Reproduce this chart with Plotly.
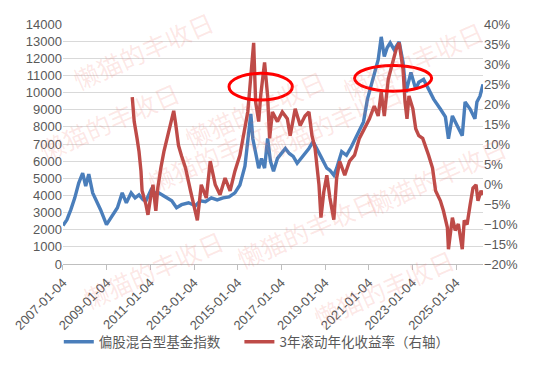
import datetime
import plotly.graph_objects as go

# ---- data (decimal years) ----
blue_t = [2007.01, 2007.19, 2007.37, 2007.55, 2007.73, 2007.91, 2008.05, 2008.19, 2008.37, 2008.55,
          2008.73, 2009.00, 2009.27, 2009.50, 2009.72, 2009.91, 2010.13, 2010.31, 2010.49, 2010.68,
          2010.81, 2011.04, 2011.22, 2011.40, 2011.63, 2011.85, 2011.99, 2012.21, 2012.44, 2012.76,
          2013.07, 2013.30, 2013.53, 2013.80, 2014.07, 2014.34, 2014.61, 2014.88, 2015.11, 2015.34,
          2015.47, 2015.61, 2015.70, 2015.83, 2015.97, 2016.10, 2016.24, 2016.38, 2016.51, 2016.65,
          2016.83, 2017.01, 2017.19, 2017.37, 2017.55, 2017.73, 2017.91, 2018.09, 2018.27, 2018.46,
          2018.64, 2018.86, 2019.09, 2019.23, 2019.41, 2019.54, 2019.77, 2019.99, 2020.22, 2020.40,
          2020.58, 2020.77, 2020.95, 2021.13, 2021.31, 2021.44, 2021.58, 2021.72, 2021.85, 2021.99,
          2022.17, 2022.40, 2022.58, 2022.71, 2022.94, 2023.16, 2023.30, 2023.52, 2023.75, 2023.98,
          2024.29, 2024.52, 2024.66, 2024.84, 2025.06, 2025.29, 2025.42, 2025.65, 2025.87, 2025.96,
          2026.10, 2026.24]
blue_v = [2250, 2590, 3170, 3860, 4720, 5300, 4550, 5240, 4150, 3690,
          3170, 2300, 2880, 3280, 4150, 3570, 4150, 3860, 4030, 3740,
          3690, 4320, 4150, 4150, 3970, 3800, 3690, 3280, 3460, 3570,
          3400, 3690, 3630, 3860, 3740, 3860, 3920, 4150, 4610, 5700,
          7320, 8750, 7320, 6450, 5590, 6160, 5590, 7320, 5990, 5410,
          6160, 6450, 6740, 6450, 6280, 5880, 6160, 6450, 6740, 7140,
          6740, 6160, 5590, 5470, 5180, 5590, 6560, 6340, 6850, 7320,
          7890, 8290, 9620, 10480, 11230, 11920, 13250, 12100, 12610, 12900,
          12500, 12960, 11750, 10020, 11170, 10200, 10600, 10770, 10200, 9620,
          9040, 8580, 7310, 8640, 8060, 7490, 9450, 9040, 8470, 9450,
          9790, 10480]

red_t = [2010.18, 2010.27, 2010.40, 2010.49, 2010.58, 2010.63, 2010.81, 2010.90, 2011.04, 2011.13,
         2011.26, 2011.35, 2011.49, 2011.63, 2011.85, 2012.08, 2012.17, 2012.30, 2012.44, 2012.62,
         2012.85, 2012.98, 2013.16, 2013.34, 2013.57, 2013.75, 2013.98, 2014.20, 2014.43, 2014.66,
         2014.88, 2015.11, 2015.34, 2015.47, 2015.56, 2015.65, 2015.74, 2015.83, 2015.97, 2016.06,
         2016.24, 2016.38, 2016.47, 2016.60, 2016.83, 2017.05, 2017.28, 2017.41, 2017.64, 2017.87,
         2018.09, 2018.27, 2018.41, 2018.55, 2018.73, 2018.82, 2018.95, 2019.09, 2019.23, 2019.41,
         2019.54, 2019.68, 2019.91, 2020.13, 2020.36, 2020.58, 2020.81, 2021.04, 2021.26, 2021.44,
         2021.58, 2021.72, 2021.90, 2022.12, 2022.26, 2022.40, 2022.58, 2022.67, 2022.76, 2022.85,
         2023.03, 2023.16, 2023.30, 2023.48, 2023.62, 2023.75, 2023.93, 2024.07, 2024.29, 2024.43,
         2024.61, 2024.66, 2024.84, 2024.97, 2025.11, 2025.29, 2025.38, 2025.51, 2025.65, 2025.78,
         2025.92, 2026.01, 2026.15, 2026.24]
red_v = [21.7, 15.6, 11.4, 8.1, 3.2, -1.7, -5.2, -7.7, -2.7, -0.2,
         -6.7, -1.0, 4.0, 8.1, 13.1, 18.3, 15.0, 9.6, 7.0, 4.0,
         -1.7, -4.5, -9.1, -0.2, -3.5, 5.7, -0.2, -2.7, 1.5, -1.7,
         3.2, 7.2, 14.6, 18.0, 23.7, 30.0, 35.3, 20.5, 15.6, 22.0,
         30.4, 22.0, 11.4, 18.0, 15.6, 18.0, 16.3, 12.1, 18.8, 14.6,
         17.0, 18.0, 12.1, 8.9, -0.2, -8.4, -2.0, 2.2, -3.5, -8.9,
         1.5, 5.7, 2.2, 5.7, 7.2, 11.4, 13.8, 16.3, 19.5, 17.0,
         23.0, 17.0, 26.2, 30.4, 33.6, 35.3, 28.6, 20.5, 16.3, 22.0,
         18.8, 13.8, 12.1, 11.4, 9.5, 7.2, 4.0, -1.7, -4.2, -6.7,
         -10.9, -16.3, -8.4, -11.6, -10.0, -16.3, -9.1, -10.1, -5.2, -1.0,
         -0.2, -4.2, -1.7, -2.7]

tick_labels = ["2007-01-04", "2009-01-04", "2011-01-04", "2013-01-04", "2015-01-04",
               "2017-01-04", "2019-01-04", "2021-01-04", "2023-01-04", "2025-01-04"]

series_names = ["偏股混合型基金指数", "3年滚动年化收益率（右轴）"]

# highlighted regions (decimal years, left-axis values)
ellipses = [(2014.61, 2017.51, 9560, 11120), (2020.36, 2023.89, 10080, 11580)]


def to_date(d):
    y = int(d)
    return datetime.datetime(y, 1, 1) + datetime.timedelta(days=(d - y) * 365.25)


bx = [to_date(t) for t in blue_t]
rx = [to_date(t) for t in red_t]
ry = [v / 100 for v in red_v]

BLUE = "#4A7EBB"
RED = "#BE4B48"
GRID = "#D9D9D9"
TXT = "#595959"
FONT = "Liberation Sans, Noto Sans CJK SC, sans-serif"

fig = go.Figure()
fig.add_trace(go.Scatter(x=bx, y=blue_v, mode="lines", name=series_names[0],
                         line=dict(color=BLUE, width=3.4), yaxis="y", legend="legend"))
fig.add_trace(go.Scatter(x=rx, y=ry, mode="lines", name=series_names[1],
                         line=dict(color=RED, width=3.4), yaxis="y2", legend="legend2"))

for x0, x1, y0, y1 in ellipses:
    fig.add_shape(type="circle", xref="x", yref="y", x0=to_date(x0), x1=to_date(x1),
                  y0=y0, y1=y1, line=dict(color="#FF0000", width=3))

# watermark
wm = "懒猫的丰收日"
wm_pos = [(252, 60), (25, 122), (135, 205), (410, 122), (305, 282), (70, 322),
          (462, 342), (515, 228), (492, 10), (60, 0)]
for px, py in wm_pos:
    fig.add_annotation(text=wm, xref="paper", yref="paper",
                       x=(px - 58) / 425, y=(267 - py) / 243, showarrow=False,
                       textangle=-24, font=dict(size=25, color="rgba(240,110,100,0.16)",
                                                family="Noto Sans CJK SC"))

leg_font = dict(size=13.5, color=TXT, family="Noto Sans CJK SC, sans-serif")
fig.update_layout(
    width=538, height=369,
    margin=dict(l=58, r=55, t=24, b=102),
    paper_bgcolor="white", plot_bgcolor="white",
    font=dict(family=FONT, size=13, color=TXT),
    showlegend=True,
    legend=dict(orientation="h", x=-0.01, xanchor="left", y=-0.325, yanchor="middle",
                font=leg_font, itemwidth=30, bgcolor="rgba(0,0,0,0)"),
    legend2=dict(orientation="h", x=0.42, xanchor="left", y=-0.325, yanchor="middle",
                 font=leg_font, itemwidth=30, bgcolor="rgba(0,0,0,0)"),
    xaxis=dict(type="date", range=[to_date(2007.01), to_date(2026.24)],
               tickvals=tick_labels, ticktext=tick_labels, tickangle=-45,
               showgrid=False, showline=True, linecolor="#BFBFBF", linewidth=1,
               ticks="outside", ticklen=5, tickcolor="#BFBFBF",
               tickfont=dict(size=13, color=TXT), zeroline=False),
    yaxis=dict(range=[0, 14000], dtick=1000, tickformat="d", showgrid=True,
               gridcolor=GRID, gridwidth=1, zeroline=False, showline=False,
               ticks="", tickfont=dict(size=13, color=TXT)),
    yaxis2=dict(range=[-0.2, 0.4], dtick=0.05, tickformat=".0%", overlaying="y",
                side="right", showgrid=False, zeroline=False, showline=False,
                tickfont=dict(size=13, color=TXT)),
)

fig.write_html("out.html")
